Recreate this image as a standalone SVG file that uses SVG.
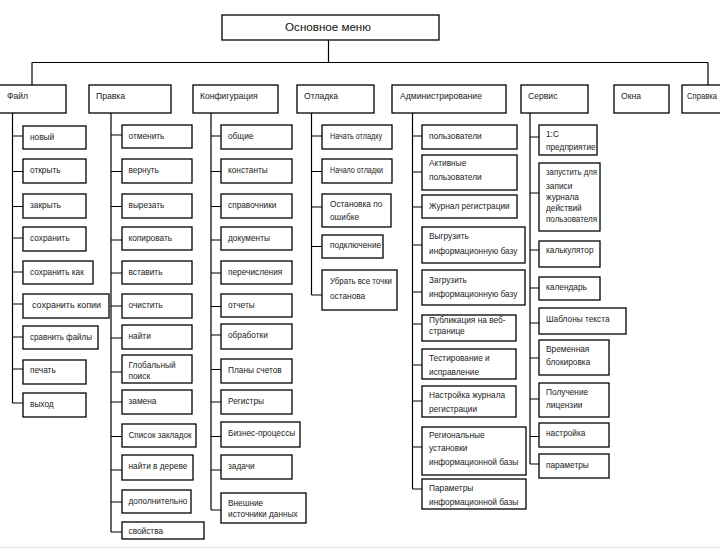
<svg xmlns="http://www.w3.org/2000/svg" width="720" height="549" viewBox="0 0 720 549">
<style>
.b{fill:#fff;stroke:#000;stroke-width:1.3}
.t{font-family:"Liberation Sans",Arial,sans-serif;font-size:8.3px;fill:#222}
.p{font-family:"Liberation Sans",Arial,sans-serif;font-size:8.6px;fill:#222}
.h{font-family:"Liberation Sans",Arial,sans-serif;font-size:11.6px;fill:#111}
.c{fill:none;stroke:#000;stroke-width:1.2}
</style>
<rect width="720" height="549" fill="#fff"/>
<line x1="0" y1="547.5" x2="720" y2="547.5" stroke="#e4e4e4" stroke-width="1"/>
<g id="connectors" class="c">
<path d="M328.5 40V62.5M32 62.5H708M32 62.5V85M708 62.5V85"/>
<path d="M12.5 113V403M12.5 136H23M12.5 171.5H23M12.5 206.5H23M12.5 238H23M12.5 272H23M12.5 304H23M12.5 337H23M12.5 369H23M12.5 403H23"/>
<path d="M111 113V532M111 135H122M111 171.5H122M111 206.5H122M111 240H122M111 273H122M111 306H122M111 338H122M111 372H122M111 402H122M111 436.5H122M111 470H122M111 502H122M111 532H122"/>
<path d="M211 113V510M211 136H221M211 171.5H221M211 206.5H221M211 240H221M211 273H221M211 306.5H221M211 335H221M211 369.5H221M211 402H221M211 436.5H221M211 470H221M211 510H221"/>
<path d="M311.5 113V295M311.5 136H322M311.5 171.5H322M311.5 207H322M311.5 246.5H322M311.5 295H322"/>
<path d="M412.5 113V489M412.5 136H422M412.5 172H422M412.5 207H422M412.5 245H422M412.5 292H422M412.5 324H422M412.5 365H422M412.5 401H422M412.5 447H422M412.5 489H422"/>
<path d="M530 113V464M530 137H539M530 193H539M530 250H539M530 288H539M530 323H539M530 358H539M530 399H539M530 436.5H539M530 464H539"/>
</g>
<g id="main"><rect class="b" x="222" y="15" width="217" height="25"/><text class="h" x="328" y="31" text-anchor="middle">Основное меню</text></g>
<g id="file"><rect class="b" x="-5" y="85" width="71" height="28"/><text class="p" x="7" y="98.5">Файл</text></g>
<g id="edit"><rect class="b" x="89" y="85" width="82" height="28"/><text class="p" x="96" y="98.5">Правка</text></g>
<g id="config"><rect class="b" x="193" y="85" width="85" height="28"/><text class="p" x="200" y="98.5">Конфигурация</text></g>
<g id="debug"><rect class="b" x="297" y="85" width="77" height="28"/><text class="p" x="304" y="98.5">Отладка</text></g>
<g id="admin"><rect class="b" x="392" y="85" width="114" height="28"/><text class="p" x="400" y="98.5">Администрирование</text></g>
<g id="service"><rect class="b" x="521" y="85" width="67" height="28"/><text class="p" x="528" y="98.5">Сервис</text></g>
<g id="windows"><rect class="b" x="614" y="85" width="55" height="28"/><text class="p" x="621" y="98.5">Окна</text></g>
<g id="help"><rect class="b" x="682" y="85" width="45" height="28"/><text class="p" x="687" y="98.5" textLength="30" lengthAdjust="spacingAndGlyphs">Справка</text></g>

<g id="f1"><rect class="b" x="23" y="126" width="63" height="23"/><text class="t" x="30" y="139.5">новый</text></g>
<g id="f2"><rect class="b" x="23" y="159" width="63" height="24"/><text class="t" x="30" y="173">открыть</text></g>
<g id="f3"><rect class="b" x="23" y="194" width="63" height="24"/><text class="t" x="30" y="208">закрыть</text></g>
<g id="f4"><rect class="b" x="23" y="227" width="63" height="24"/><text class="t" x="30" y="241">сохранить</text></g>
<g id="f5"><rect class="b" x="23" y="261" width="70" height="23"/><text class="t" x="30" y="274.5">сохранить как</text></g>
<g id="f6"><rect class="b" x="23" y="294" width="86" height="24"/><text class="t" x="32" y="308" textLength="69" lengthAdjust="spacingAndGlyphs">сохранить копии</text></g>
<g id="f7"><rect class="b" x="23" y="326" width="75" height="23"/><text class="t" x="30" y="339.5" textLength="62" lengthAdjust="spacingAndGlyphs">сравнить файлы</text></g>
<g id="f8"><rect class="b" x="23" y="360" width="63" height="24"/><text class="t" x="30" y="373">печать</text></g>
<g id="f9"><rect class="b" x="23" y="393" width="63" height="24"/><text class="t" x="30" y="407">выход</text></g>

<g id="e1"><rect class="b" x="122" y="125" width="70" height="23"/><text class="t" x="128.5" y="138.5">отменить</text></g>
<g id="e2"><rect class="b" x="122" y="159" width="70" height="24"/><text class="t" x="128.5" y="173">вернуть</text></g>
<g id="e3"><rect class="b" x="122" y="194" width="70" height="24"/><text class="t" x="128.5" y="208">вырезать</text></g>
<g id="e4"><rect class="b" x="122" y="227" width="70" height="23"/><text class="t" x="128.5" y="240.5">копировать</text></g>
<g id="e5"><rect class="b" x="122" y="261" width="70" height="23"/><text class="t" x="128.5" y="274.5">вставить</text></g>
<g id="e6"><rect class="b" x="122" y="294" width="70" height="24"/><text class="t" x="128.5" y="308">очистить</text></g>
<g id="e7"><rect class="b" x="122" y="325" width="70" height="24"/><text class="t" x="128.5" y="339">найти</text></g>
<g id="e8"><rect class="b" x="122" y="355" width="70" height="28"/><text class="t" x="128.5" y="368">Глобальный</text><text class="t" x="128.5" y="379">поиск</text></g>
<g id="e9"><rect class="b" x="122" y="390" width="70" height="24"/><text class="t" x="128.5" y="403.5">замена</text></g>
<g id="e10"><rect class="b" x="122" y="424" width="74" height="23"/><text class="t" x="128.5" y="437.5" textLength="63" lengthAdjust="spacingAndGlyphs">Список закладок</text></g>
<g id="e11"><rect class="b" x="122" y="455" width="71" height="25"/><text class="t" x="128.5" y="469">найти в дереве</text></g>
<g id="e12"><rect class="b" x="122" y="490" width="69" height="23"/><text class="t" x="128.5" y="503.5">дополнительно</text></g>
<g id="e13"><rect class="b" x="122" y="522" width="82" height="17"/><text class="t" x="128.5" y="533.5">свойства</text></g>

<g id="c1"><rect class="b" x="221" y="125" width="71" height="24"/><text class="t" x="228" y="139">общие</text></g>
<g id="c2"><rect class="b" x="221" y="159" width="71" height="24"/><text class="t" x="228" y="173">константы</text></g>
<g id="c3"><rect class="b" x="221" y="194" width="71" height="24"/><text class="t" x="228" y="208">справочники</text></g>
<g id="c4"><rect class="b" x="221" y="227" width="71" height="23"/><text class="t" x="228" y="240.5">документы</text></g>
<g id="c5"><rect class="b" x="221" y="261" width="71" height="23"/><text class="t" x="228" y="274.5">перечисления</text></g>
<g id="c6"><rect class="b" x="221" y="294" width="71" height="23"/><text class="t" x="228" y="307.5">отчеты</text></g>
<g id="c7"><rect class="b" x="221" y="324" width="71" height="25"/><text class="t" x="228" y="338">обработки</text></g>
<g id="c8"><rect class="b" x="221" y="359" width="71" height="24"/><text class="t" x="228" y="372.5">Планы счетов</text></g>
<g id="c9"><rect class="b" x="221" y="390" width="71" height="24"/><text class="t" x="228" y="403.5">Регистры</text></g>
<g id="c10"><rect class="b" x="221" y="422" width="79" height="25"/><text class="t" x="228" y="435.5">Бизнес-процессы</text></g>
<g id="c11"><rect class="b" x="221" y="455" width="71" height="24"/><text class="t" x="228" y="468.5">задачи</text></g>
<g id="c12"><rect class="b" x="221" y="493" width="85" height="30"/><text class="t" x="228" y="505.5">Внешние</text><text class="t" x="228" y="517">источники данных</text></g>

<g id="d1"><rect class="b" x="322" y="125" width="70" height="24"/><text class="t" x="330" y="138.5" textLength="52" lengthAdjust="spacingAndGlyphs">Начать отладку</text></g>
<g id="d2"><rect class="b" x="322" y="159" width="70" height="24"/><text class="t" x="330" y="172.5" textLength="53" lengthAdjust="spacingAndGlyphs">Начало отладки</text></g>
<g id="d3"><rect class="b" x="322" y="194" width="69" height="33"/><text class="t" x="330" y="207">Остановка по</text><text class="t" x="330" y="220">ошибке</text></g>
<g id="d4"><rect class="b" x="322" y="235" width="61" height="23"/><text class="t" x="330" y="248">подключение</text></g>
<g id="d5"><rect class="b" x="322" y="270" width="75" height="40"/><text class="t" x="330" y="284" textLength="62" lengthAdjust="spacingAndGlyphs">Убрать все точки</text><text class="t" x="330" y="299">останова</text></g>

<g id="a1"><rect class="b" x="422" y="125" width="95" height="24"/><text class="t" x="429" y="138.5">пользователи</text></g>
<g id="a2"><rect class="b" x="422" y="155" width="95" height="35"/><text class="t" x="429" y="166">Активные</text><text class="t" x="429" y="180">пользователи</text></g>
<g id="a3"><rect class="b" x="422" y="195" width="95" height="23"/><text class="t" x="429" y="208.5">Журнал регистрации</text></g>
<g id="a4"><rect class="b" x="422" y="227" width="103" height="36"/><text class="t" x="429" y="239">Выгрузить</text><text class="t" x="429" y="254">информационную базу</text></g>
<g id="a5"><rect class="b" x="422" y="270" width="103" height="35"/><text class="t" x="429" y="283">Загрузить</text><text class="t" x="429" y="297">информационную базу</text></g>
<g id="a6"><rect class="b" x="422" y="315" width="94" height="26"/><text class="t" x="429" y="322.5">Публикация на веб-</text><text class="t" x="429" y="334">странице</text></g>
<g id="a7"><rect class="b" x="422" y="349" width="94" height="30"/><text class="t" x="429" y="361">Тестирование и</text><text class="t" x="429" y="374.5">исправление</text></g>
<g id="a8"><rect class="b" x="422" y="386" width="94" height="31"/><text class="t" x="429" y="398">Настройка журнала</text><text class="t" x="429" y="411.5">регистрации</text></g>
<g id="a9"><rect class="b" x="422" y="427" width="104" height="48"/><text class="t" x="429" y="438">Региональные</text><text class="t" x="429" y="451">установки</text><text class="t" x="429" y="465">информационной базы</text></g>
<g id="a10"><rect class="b" x="422" y="479" width="104" height="30"/><text class="t" x="429" y="491">Параметры</text><text class="t" x="429" y="504.5">информационной базы</text></g>

<g id="s1"><rect class="b" x="539" y="125" width="58" height="30"/><text class="t" x="546" y="137">1:С</text><text class="t" x="546" y="150">предприятие</text></g>
<g id="s2"><rect class="b" x="539" y="163" width="61" height="68"/><text class="t" x="546" y="174.5" textLength="51" lengthAdjust="spacingAndGlyphs">запустить для</text><text class="t" x="546" y="189">записи</text><text class="t" x="546" y="200">журнала</text><text class="t" x="546" y="211">действий</text><text class="t" x="546" y="222" textLength="51" lengthAdjust="spacingAndGlyphs">пользователя</text></g>
<g id="s3"><rect class="b" x="539" y="241" width="61" height="26"/><text class="t" x="546" y="253">калькулятор</text></g>
<g id="s4"><rect class="b" x="539" y="277" width="61" height="23"/><text class="t" x="546" y="290">календарь</text></g>
<g id="s5"><rect class="b" x="539" y="308" width="87" height="26"/><text class="t" x="546" y="322">Шаблоны текста</text></g>
<g id="s6"><rect class="b" x="539" y="340" width="70" height="35"/><text class="t" x="546" y="352">Временная</text><text class="t" x="546" y="364.5">блокировка</text></g>
<g id="s7"><rect class="b" x="539" y="383" width="70" height="34"/><text class="t" x="546" y="394.5">Получение</text><text class="t" x="546" y="408">лицензии</text></g>
<g id="s8"><rect class="b" x="539" y="423" width="70" height="24"/><text class="t" x="546" y="436">настройка</text></g>
<g id="s9"><rect class="b" x="539" y="454" width="70" height="24"/><text class="t" x="546" y="467.5">параметры</text></g>
</svg>
